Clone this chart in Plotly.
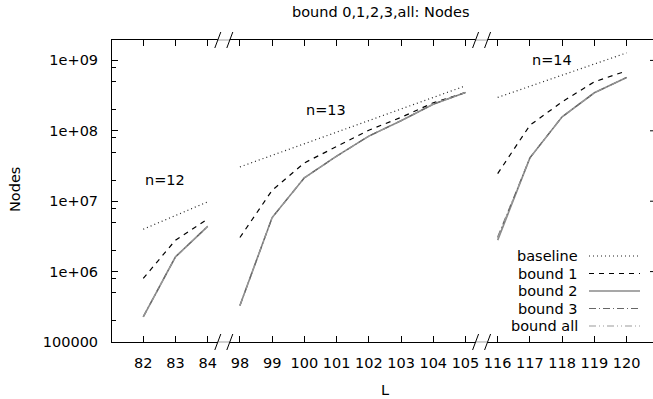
import math
import plotly.graph_objects as go

# ---- data ----
L_ticks = [82, 83, 84, 98, 99, 100, 101, 102, 103, 104, 105, 116, 117, 118, 119, 120]

L12 = [82, 83, 84]
L13 = [98, 99, 100, 101, 102, 103, 104, 105]
L14 = [116, 117, 118, 119, 120]

baseline12 = [4.0e6, 6.3e6, 9.8e6]
bound1_12 = [8.0e5, 2.8e6, 5.6e6]
bound2_12 = [2.28e5, 1.62e6, 4.4e6]
bound3_12 = [2.28e5, 1.62e6, 4.4e6]
boundall_12 = [2.28e5, 1.62e6, 4.4e6]

baseline13 = [3.07e7, 4.49e7, 6.55e7, 9.57e7, 1.40e8, 2.04e8, 2.98e8, 4.35e8]
bound1_13 = [3.05e6, 1.43e7, 3.5e7, 5.9e7, 1.02e8, 1.55e8, 2.5e8, 3.5e8]
bound2_13 = [3.29e5, 5.86e6, 2.15e7, 4.36e7, 8.4e7, 1.39e8, 2.39e8, 3.5e8]
bound3_13 = [3.29e5, 5.86e6, 2.15e7, 4.36e7, 8.4e7, 1.39e8, 2.39e8, 3.5e8]
boundall_13 = [3.29e5, 5.86e6, 2.15e7, 4.36e7, 8.4e7, 1.39e8, 2.39e8, 3.5e8]

baseline14 = [2.98e8, 4.29e8, 6.18e8, 8.9e8, 1.28e9]
bound1_14 = [2.47e7, 1.2e8, 2.58e8, 4.97e8, 7.1e8]
bound2_14 = [2.8e6, 4.13e7, 1.58e8, 3.47e8, 5.73e8]
bound3_14 = [3.1e6, 4.13e7, 1.58e8, 3.47e8, 5.73e8]
boundall_14 = [3.0e6, 4.13e7, 1.58e8, 3.47e8, 5.73e8]

y_tickvals = [1e5, 1e6, 1e7, 1e8, 1e9]
y_ticktext = ["100000", "1e+06", "1e+07", "1e+08", "1e+09"]
y_minor = [m * 10 ** e for e in range(5, 10) for m in (2, 5, 8)]

series_names = ["baseline", "bound 1", "bound 2", "bound 3", "bound all"]
segments = [
    (L12, [baseline12, bound1_12, bound2_12, bound3_12, boundall_12]),
    (L13, [baseline13, bound1_13, bound2_13, bound3_13, boundall_13]),
    (L14, [baseline14, bound1_14, bound2_14, bound3_14, boundall_14]),
]
labels = [("n=12", 82, 2e7), ("n=13", 100, 2e8), ("n=14", 117, 1e9)]

# ---- styles ----
styles = {
    "baseline": dict(color="#222222", width=1.2, dash="1px,3px"),
    "bound 1": dict(color="#000000", width=1.2, dash="5px,5px"),
    "bound 2": dict(color="#8a8a8a", width=1.6, dash="solid"),
    "bound 3": dict(color="#666666", width=1.2, dash="7px,3px,1px,3px"),
    "bound all": dict(color="#999999", width=1.2, dash="7px,3px,1px,3px,1px,3px"),
}

pos = {L: i for i, L in enumerate(L_ticks)}
FONT = "DejaVu Sans"
FS = 14.5

W, H = 653, 399
ML, MR, MT, MB = 112, 0, 40, 57
PW, PH = W - ML - MR, H - MT - MB
XR = [-0.97, 15.82]
YR = [5, 9.29]


def px(xw):  # window x -> paper
    return (xw - ML) / PW


def py(yw):  # window y -> paper
    return 1 - (yw - MT) / PH


fig = go.Figure()
for Ls, ys_list in segments:
    xs = [pos[L] for L in Ls]
    for name, ys in zip(series_names, ys_list):
        fig.add_trace(go.Scatter(x=xs, y=ys, mode="lines", line=styles[name],
                                 showlegend=False, hoverinfo="skip"))

fig.update_layout(
    width=W, height=H,
    margin=dict(l=ML, r=MR, t=MT, b=MB, pad=0),
    paper_bgcolor="white", plot_bgcolor="white",
    font=dict(family=FONT, size=FS, color="black"),
    showlegend=False,
)
fig.update_xaxes(
    range=XR,
    tickmode="array", tickvals=[pos[L] for L in L_ticks], ticktext=[str(L) for L in L_ticks],
    ticks="inside", ticklen=6, tickcolor="black", tickwidth=1,
    showline=True, linecolor="black", linewidth=1, mirror="ticks",
    showgrid=False, zeroline=False, ticklabelstandoff=8,
    tickfont=dict(family=FONT, size=FS),
)
fig.update_yaxes(
    type="log", range=YR,
    tickmode="array", tickvals=y_tickvals, ticktext=y_ticktext,
    ticks="inside", ticklen=6, tickcolor="black", tickwidth=1,
    minor=dict(tickvals=y_minor, ticks="inside", ticklen=4, tickcolor="black", tickwidth=1),
    showline=True, linecolor="black", linewidth=1, mirror=False,
    showgrid=False, zeroline=False, ticklabelstandoff=10,
    tickfont=dict(family=FONT, size=FS),
)

# series labels
for txt, Lx, yv in labels:
    fig.add_annotation(x=pos[Lx], y=math.log10(yv), xref="x", yref="y",
                       text=txt, showarrow=False, xanchor="left", yanchor="middle",
                       font=dict(family=FONT, size=FS))

# title and axis titles
fig.add_annotation(x=px(380), y=py(12), xref="paper", yref="paper",
                   text="bound 0,1,2,3,all: Nodes", showarrow=False,
                   xanchor="center", yanchor="middle", font=dict(family=FONT, size=FS))
fig.add_annotation(x=px(385), y=py(390), xref="paper", yref="paper",
                   text="L", showarrow=False, xanchor="center", yanchor="middle",
                   font=dict(family=FONT, size=FS))
fig.add_annotation(x=px(15), y=py(190), xref="paper", yref="paper",
                   text="Nodes", showarrow=False, textangle=-90,
                   xanchor="center", yanchor="middle", font=dict(family=FONT, size=FS))

# legend (gnuplot style: text right-aligned, sample on the right)
leg_y = [256, 273.5, 291, 308.5, 326]
for name, yy in zip(series_names, leg_y):
    fig.add_annotation(x=px(580), y=py(yy), xref="paper", yref="paper", text=name,
                       showarrow=False, xanchor="right", yanchor="middle",
                       font=dict(family=FONT, size=FS))
    st = styles[name]
    fig.add_shape(type="line", xref="paper", yref="paper",
                  x0=px(589), x1=px(640), y0=py(yy), y1=py(yy),
                  line=dict(color=st["color"], width=st["width"], dash=st["dash"]))

# right-side mirrored major ticks (border lies just outside the window)
for v in y_tickvals[1:]:
    yp = (math.log10(v) - YR[0]) / (YR[1] - YR[0])
    fig.add_shape(type="line", xref="paper", yref="paper", x0=px(650), x1=1,
                  y0=yp, y1=yp, line=dict(color="black", width=1))

# axis break marks
upx = PW / (XR[1] - XR[0])
for c in (2.5, 10.5):
    for yb in (0, 1):
        fig.add_shape(type="line", xref="x", yref="paper",
                      x0=c - 6 / upx, x1=c + 6 / upx, y0=yb, y1=yb,
                      line=dict(color="#d0d0d0", width=2))
        for off in (-6, 6):
            fig.add_shape(type="line", xref="x", yref="paper",
                          x0=c + (off - 3) / upx, x1=c + (off + 3) / upx,
                          y0=yb - 8 / PH, y1=yb + 8 / PH,
                          line=dict(color="black", width=1))

fig.write_html(
    "out.html",
    config={"displayModeBar": False, "staticPlot": True},
    post_script="document.body.style.margin='0';document.body.style.overflow='hidden';",
)
